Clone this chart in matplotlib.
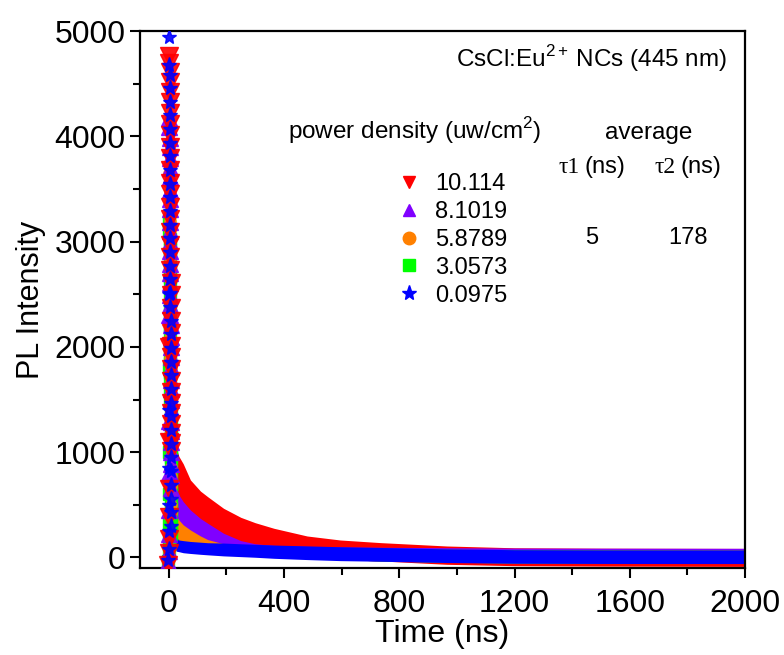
import numpy as np
import matplotlib
matplotlib.use("Agg")
import matplotlib.pyplot as plt
from matplotlib.ticker import MultipleLocator

plt.rcParams['font.family'] = ['Liberation Sans', 'DejaVu Sans']
plt.rcParams['mathtext.fontset'] = 'custom'
plt.rcParams['mathtext.rm'] = 'Liberation Sans'

# legend labels (power density, uw/cm2) and colours
labels = ['10.114', '8.1019', '5.8789', '3.0573', '0.0975']
colors = ['#ff0000', '#8000ff', '#ff8000', '#00ff00', '#0000ff']
markers = ['v', '^', 'o', 's', '*']
sizes = [13, 12, 8, 8, 11]

# rising edge of the pulse (ns) and intensities
rise_t = [-1.5, -1.0, -0.5, 0.0, 0.5, 1.0, 1.5]
rise_red = [-70, 40, 180, 380, 650, 1100, 2000]
rise_pur = [-45, 60, 220, 450, 800, 1300, 2300]
rise_ora = [-40, 50, 200, 400, 700, 1150, 2000]
rise_grn = [-30, 40, 150, 330, 600, 1000, 1800]
rise_blu = [-25, 80, 250, 500, 850, 1400, 2500]

# fast decay right after the peak
decay_t = np.arange(2.0, 9.1, 0.2)
decay_red = [4760, 4700, 4610, 4520, 4420, 4330, 4220, 4120, 4010, 3900, 3790, 3680,
             3560, 3450, 3330, 3210, 3090, 2970, 2850, 2730, 2610, 2490, 2370, 2250,
             2130, 2010, 1900, 1790, 1680, 1570, 1470, 1370, 1270, 1180, 1090, 1010]
decay_pur = [4170, 4090, 3980, 3900, 3790, 3700, 3610, 3490, 3400, 3310, 3190, 3100,
             3000, 2910, 2790, 2700, 2610, 2490, 2400, 2300, 2210, 2090, 2000, 1900,
             1810, 1690, 1600, 1500, 1410, 1290, 1200, 1100, 1000, 890, 780, 660]
decay_ora = [3650, 3560, 3470, 3380, 3290, 3200, 3100, 3010, 2920, 2820, 2730, 2640,
             2540, 2450, 2360, 2260, 2170, 2080, 1980, 1890, 1800, 1700, 1610, 1520,
             1420, 1330, 1240, 1140, 1050, 960, 860, 770, 680, 590, 500, 420]
decay_grn = [3200, 3110, 3020, 2930, 2840, 2750, 2660, 2570, 2480, 2390, 2300, 2210,
             2120, 2030, 1940, 1850, 1760, 1670, 1580, 1490, 1400, 1310, 1220, 1130,
             1040, 950, 860, 780, 700, 620, 540, 470, 400, 330, 270, 220]
decay_blu = [4946, 4680, 4580, 4460, 4330, 4200, 4070, 3940, 3810, 3680, 3550, 3420,
             3290, 3160, 3030, 2900, 2770, 2640, 2510, 2380, 2250, 2120, 1990, 1860,
             1730, 1600, 1470, 1340, 1210, 1080, 950, 820, 690, 560, 430, 300]

# slow tail: upper / lower edge of the noisy band
tail_t = [25, 35, 50, 75, 110, 135, 190, 250, 300, 365, 480, 595, 735, 965, 1200, 1500, 2000]
red_hi = [1050, 960, 890, 736, 630, 577, 467, 381, 330, 277, 204, 166, 141, 109, 92, 88, 86]
red_lo = [70, 65, 55, 48, 40, 35, 25, 18, 12, 2, -10, -20, -33, -65, -78, -82, -85]
pur_hi = [650, 594, 530, 451, 370, 325, 230, 160, 130, 115, 105, 100, 97, 93, 89, 88, 87]
pur_lo = [70, 65, 55, 48, 40, 35, 25, 18, 12, 2, -10, -20, -33, -45, -52, -55, -56]
ora_hi = [400, 356, 310, 261, 204, 170, 130, 120, 112, 104, 95, 88, 83, 78, 74, 72, 70]
ora_lo = [70, 65, 55, 48, 40, 35, 25, 18, 12, 2, -10, -20, -33, -45, -52, -55, -56]
grn_hi = [200, 160, 150, 142, 136, 130, 124, 118, 112, 106, 98, 92, 86, 78, 72, 70, 68]
grn_lo = [70, 65, 55, 48, 40, 35, 25, 18, 12, 2, -10, -20, -33, -45, -52, -55, -56]
blu_hi = [190, 166, 160, 152, 145, 140, 137, 130, 125, 118, 110, 102, 95, 82, 74, 72, 71]
blu_lo = [60, 55, 45, 38, 30, 25, 15, 8, 2, -8, -20, -30, -36, -48, -55, -57, -58]

rises = [rise_red, rise_pur, rise_ora, rise_grn, rise_blu]
decays = [decay_red, decay_pur, decay_ora, decay_grn, decay_blu]
his = [red_hi, pur_hi, ora_hi, grn_hi, blu_hi]
los = [red_lo, pur_lo, ora_lo, grn_lo, blu_lo]

W, H = 784, 655
fig = plt.figure(figsize=(W / 100, H / 100), dpi=100)
ax = fig.add_axes([140 / W, 1 - 568 / H, 605 / W, 537 / H])

# tail bands: red at the back, blue in front
for i in range(5):
    ax.fill_between(tail_t, los[i], his[i], color=colors[i], lw=0, zorder=2)

# spike markers: green/orange hidden behind purple, red, then blue on top
handles = [None] * 5
for k, i in enumerate([3, 2, 1, 0, 4]):
    t = list(rise_t) + list(decay_t)
    y = rises[i] + decays[i]
    h, = ax.plot(t, y, ls='none', marker=markers[i], ms=sizes[i], color=colors[i],
                 mec=colors[i], alpha=0.9, zorder=3 + k)
    handles[i] = h

ax.set_xlim(-100, 2000)
ax.set_ylim(-100, 5000)
ax.xaxis.set_major_locator(MultipleLocator(400))
ax.xaxis.set_minor_locator(MultipleLocator(200))
ax.yaxis.set_major_locator(MultipleLocator(1000))
ax.yaxis.set_minor_locator(MultipleLocator(500))
ax.tick_params(which='both', direction='out', width=1.5, labelsize=23, top=False, right=False)
ax.tick_params(which='major', length=7)
ax.tick_params(which='minor', length=5)
ax.tick_params(axis='x', which='major', pad=8)
for s in ax.spines.values():
    s.set_linewidth(1.6)

ax.set_xlabel('Time (ns)', fontsize=23, labelpad=0)
ax.set_ylabel('PL Intensity', fontsize=22, labelpad=6)

# legend (marker + label) placed like the original
lg = ax.legend(handles, labels, loc='upper left', bbox_to_anchor=(397 / W, 1 - 173 / H),
               bbox_transform=fig.transFigure, frameon=False, fontsize=17,
               handlelength=1.0, handletextpad=0.6, labelspacing=0.25,
               borderpad=0, borderaxespad=0)
for lh, mk in zip(lg.legend_handles, markers):
    lh.set_alpha(1)
    lh.set_markersize(11 if mk == '*' else 9)


def ftext(x, y, s, **kw):
    fig.text(x / W, 1 - y / H, s, **kw)


ftext(727, 67, r'CsCl:Eu$^{\mathrm{2+}}\,$NCs (445 nm)', fontsize=17.5, ha='right', va='baseline')
ftext(288, 139, r'power density (uw/cm$^{\mathrm{2}}$)', fontsize=17.5, ha='left', va='baseline')
ftext(649, 139, 'average', fontsize=17.5, ha='center', va='baseline')
ftext(580, 173, '\u03c41', fontsize=17, ha='right', va='baseline', family='Liberation Serif')
ftext(584, 173, '(ns)', fontsize=17, ha='left', va='baseline')
ftext(676, 173, '\u03c42', fontsize=17, ha='right', va='baseline', family='Liberation Serif')
ftext(680, 173, '(ns)', fontsize=17, ha='left', va='baseline')
ftext(592, 244, '5', fontsize=17, ha='center', va='baseline')
ftext(688, 244, '178', fontsize=17, ha='center', va='baseline')

fig.savefig('out.png', dpi=100)
